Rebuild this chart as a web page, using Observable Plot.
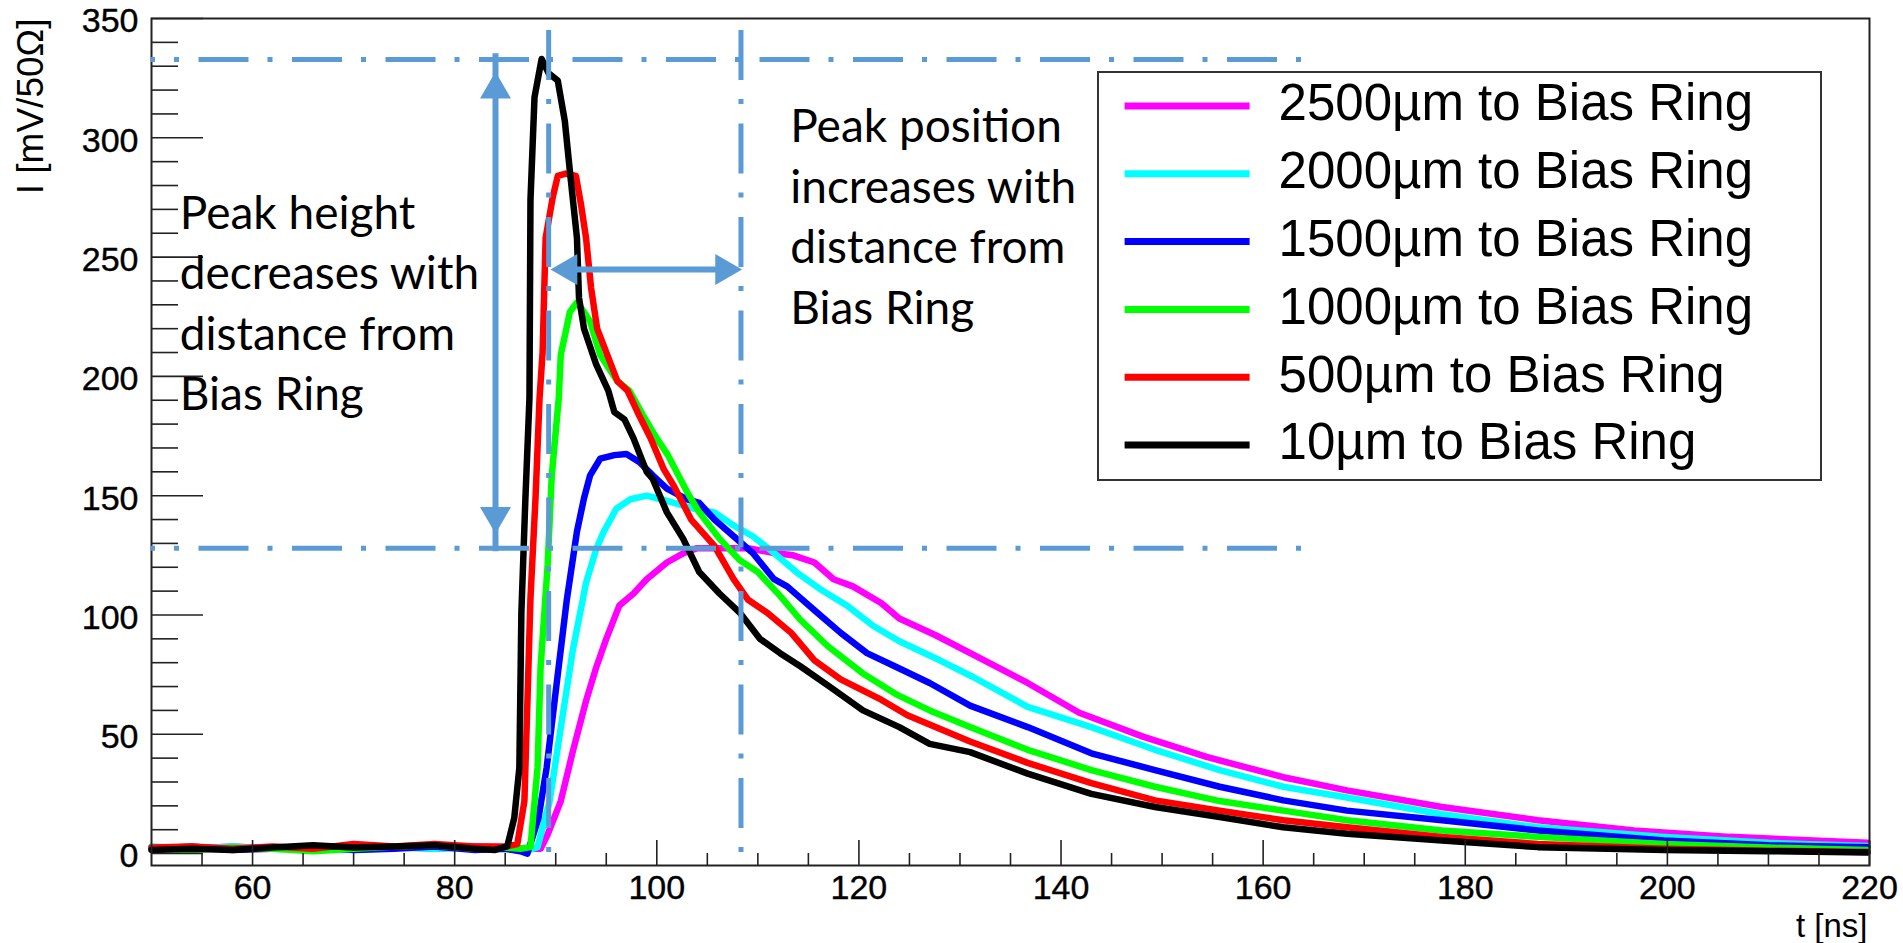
<!DOCTYPE html>
<html>
<head>
<meta charset="utf-8">
<script src="https://cdn.jsdelivr.net/npm/d3@7"></script>
<script src="https://cdn.jsdelivr.net/npm/@observablehq/plot@0.6"></script>
<style>
  html, body { margin: 0; padding: 0; background: #fff; }
  #wrap { position: relative; width: 1903px; height: 943px; overflow: hidden; background: #fff; }
  #wrap > svg { position: absolute; left: 0; top: 0; }
</style>
</head>
<body>
<div id="wrap"></div>
<script>
// ---------- data ----------
const seriesNames = [
  "2500µm to Bias Ring",
  "2000µm to Bias Ring",
  "1500µm to Bias Ring",
  "1000µm to Bias Ring",
  "500µm to Bias Ring",
  "10µm to Bias Ring"
];
const seriesColors = ["#ff00ff", "#00ffff", "#0000ff", "#00ff00", "#ff0000", "#000000"];

// [t (ns), I (mV/50Ω)]
const s2500 = [[50,2.5],[54,2],[58,3],[62,2],[66,2.5],[70,2],[74,3],[78,2],[82,3],[85,2.5],[87,2],[88.5,2],[89.2,8],[90.5,22],[91.7,43],[93.0,64],[94.0,78],[95.0,90],[96.3,104],[97.7,109],[99.0,115],[101.0,122],[102.7,126],[104.0,128],[106.2,128],[109.0,128],[111.6,126],[113.5,125],[115.6,122],[117.5,115],[119.4,112],[122.2,105],[124.0,98.5],[127.6,91.5],[131.5,83],[136.7,71.5],[141.8,59],[148.1,49],[154.4,40.5],[162.0,32],[168.3,26.5],[177.7,19.5],[187.2,14],[196.7,9.7],[206.2,7],[219.8,4.5]];
const s2000 = [[50,3],[54,2],[58,3],[62,2],[66,1.5],[70,3],[74,2.5],[78,2],[82,2.5],[85,2],[87,1],[88.2,2.7],[89.4,22],[90.4,50],[91.7,85.5],[93.0,113.5],[94.0,127.5],[94.7,134.5],[96.0,144.5],[97.4,148.5],[99.0,150],[100.4,148.5],[101.7,147],[103.7,144.5],[105.7,143],[107.6,137.5],[109.5,133],[111.6,126],[113.8,118],[116.1,111],[118.8,104],[121.4,95.5],[124.0,89],[128.0,81],[131.3,74],[136.7,61.5],[143.0,53],[149.3,43.5],[155.7,35],[162.0,28],[168.3,23.5],[177.7,16.5],[187.2,11],[199.7,7],[210,4.5],[219.8,3.2]];
const s1500 = [[50,2],[54,3],[58,1.5],[62,2],[66,2.5],[70,1.5],[74,2],[78,3],[82,1.5],[85,2],[86.5,1],[87.2,0],[88.3,15],[89.1,36],[90.1,71.5],[91.1,106.5],[92.1,135],[92.8,149],[93.4,158.5],[94.4,165.5],[95.8,167],[97.0,167.5],[98.3,164],[99.6,158.5],[101.0,153],[103.0,148.5],[104.2,147],[105.7,140],[107.6,133],[109.5,126],[111.6,115],[112.9,112],[115.6,102],[118.2,92.5],[120.8,84],[123.8,78],[127.0,71.5],[131.0,62],[136.7,53],[143.0,42],[149.3,35],[155.7,28],[162.0,22.3],[168.3,18],[177.7,14],[187.2,9.7],[199.7,5.5],[210,3.5],[219.8,2.7]];
const s1000 = [[50,2],[54,1.5],[58,2.5],[62,2],[66,1],[70,2],[74,3],[78,3.5],[82,2],[85,2.5],[86.5,2],[87.5,2.7],[88.2,36],[88.5,78],[89.2,121],[89.6,158],[90.3,191],[90.5,209],[91.4,227],[92.1,231],[92.8,227],[93.4,223],[94.4,209],[96.1,198],[97.3,194],[98.6,184],[100.0,174],[101.1,167],[103.0,151.5],[104.2,143],[106.2,132],[108.2,123],[110.0,118],[112.2,108],[114.2,98],[116.9,87],[120.4,75.5],[123.8,66.5],[127.0,60],[131.0,53],[136.7,43.5],[143.0,35],[149.3,28],[155.7,22],[162.0,18],[168.3,14],[177.7,9.7],[187.2,7],[199.7,4],[210,2.5],[219.8,1.5]];
const s500 = [[50,2.5],[54,3],[58,2],[62,3],[66,2],[70,4],[74,3],[78,4],[82,3],[85,3],[86.2,4],[86.9,22],[87.2,64],[87.5,107],[88.0,149],[88.4,191],[88.7,210],[89.0,258],[89.7,275],[90.2,284],[91.0,285],[92.0,284],[92.5,272],[93.0,258],[93.5,237],[94.1,220],[95.1,209],[96.1,198],[97.1,194],[98.1,185],[99.4,174],[100.7,161],[101.7,154],[103.4,140],[105.7,129],[107.6,115],[109.0,106.5],[110.9,101],[113.3,92.5],[115.6,81],[118.2,73],[122.2,64.5],[124.8,58],[131.0,47],[136.7,38],[143.0,29.5],[149.3,22.3],[155.7,18],[162.0,14],[168.3,11],[177.7,7],[187.2,4],[199.7,2],[210,1.2],[219.8,0.7]];
const s10 = [[50,1.5],[54,2],[58,1.5],[62,2.5],[66,3.5],[70,2.5],[74,3],[78,3.5],[82,2],[84,1.5],[85.2,3],[85.9,15],[86.4,36],[86.6,101],[87.0,149],[87.4,191],[87.5,274],[87.9,317],[88.6,333],[89.3,327],[90.2,324],[90.9,307],[91.4,286],[92.1,258],[92.3,233],[92.8,220],[94.0,205],[95.2,194],[95.8,185],[96.8,182],[97.7,174],[99.0,160],[99.6,157],[101.0,143],[102.6,132],[104.2,118],[106.2,109],[108.2,101],[110.2,90],[112.2,84],[114.2,78.5],[117.1,70],[120.4,60],[124.0,53],[127.0,46],[131.0,42.5],[136.7,33.5],[143.0,25],[149.3,19.5],[155.7,15.3],[162.0,11],[168.3,8.3],[177.7,5.5],[187.2,2.7],[199.7,1.5],[210,1],[219.8,0.5]];
const allSeries = [s2500, s2000, s1500, s1000, s500, s10];

// axis ticks
const xMajorTicks = [60, 80, 100, 120, 140, 160, 180, 200, 220];
const xMinorTicks = [55,65,70,75,85,90,95,105,110,115,125,130,135,145,150,155,165,170,175,185,190,195,205,210,215];
const yMajorTicks = [0, 50, 100, 150, 200, 250, 300, 350];
const yMinorTicks = [10,20,30,40,60,70,80,90,110,120,130,140,160,170,180,190,210,220,230,240,260,270,280,290,310,320,330,340];
const xTitle = "t [ns]";
const yTitle = "I [mV/50Ω]";

// annotations (data coordinates)
const guideH = [{y: 332.8, x1: 50, x2: 163.9}, {y: 128, x1: 50, x2: 163.9}];
const guideV = [{x: 89.3, y1: 345, y2: -3}, {x: 108.33, y1: 345, y2: -3}];
const arrowV = [{x: 84.04, y1: 134, y2: 327.7}];
const arrowH = [{y: 244.8, x1: 89.48, x2: 108.44}];
const noteLeft = [{x: 52.8, y: 185.8, text: "Peak height\ndecreases with\ndistance from\nBias Ring"}];
const noteRight = [{x: 113.2, y: 222.1, text: "Peak position\nincreases with\ndistance from\nBias Ring"}];

// ---------- build ----------
const rows = [];
allSeries.forEach((s, i) => s.forEach(([t, v]) => rows.push({t, v, series: seriesNames[i]})));

const annoColor = "#5B9BD5";
const frameColor = "#222";
const rootFont = "'Liberation Sans', Arial, Helvetica, sans-serif";
const noteFont = "Lato, 'Open Sans', sans-serif";
const headR = 11.5;
const headOff = 2 * Math.sqrt((headR * headR * Math.PI) / (3 * Math.sqrt(3)));

const plot = Plot.plot({
  width: 1903,
  height: 943,
  marginLeft: 151,
  marginRight: 34,
  marginTop: 18,
  marginBottom: 78,
  x: {domain: [50, 220]},
  y: {domain: [-5, 350]},
  color: {domain: seriesNames, range: seriesColors},
  style: {fontFamily: rootFont, fontSize: "34px", color: "#000", background: "#fff", overflow: "visible"},
  marks: [
    Plot.line(rows, {x: "t", y: "v", z: "series", stroke: "series", strokeWidth: 6.5, strokeLinejoin: "round"}),
    Plot.frame({stroke: frameColor, strokeWidth: 2}),
    // ticks (inside the frame, ROOT style)
    Plot.axisY(yMinorTicks, {anchor: "left", tickSize: 27, dx: 27, fill: "none", label: null, stroke: frameColor, strokeWidth: 1.6}),
    Plot.axisY(yMajorTicks, {anchor: "left", tickSize: 52, dx: 52, fill: "none", label: null, stroke: frameColor, strokeWidth: 1.6}),
    Plot.axisY(yMajorTicks, {anchor: "left", tickSize: 0, tickPadding: 13, dy: 3, label: null, fontSize: 34, fill: "#000", textStroke: "#000", textStrokeWidth: 0.4}),
    Plot.axisX(xMinorTicks, {anchor: "bottom", tickSize: 12, dy: -12, fill: "none", label: null, stroke: frameColor, strokeWidth: 1.6}),
    Plot.axisX(xMajorTicks, {anchor: "bottom", tickSize: 25, dy: -25, fill: "none", label: null, stroke: frameColor, strokeWidth: 1.6}),
    Plot.axisX(xMajorTicks, {anchor: "bottom", tickSize: 0, tickPadding: 9, label: null, fontSize: 34, fill: "#000", textStroke: "#000", textStrokeWidth: 0.4}),
    Plot.text([yTitle], {frameAnchor: "top-left", rotate: -90, textAnchor: "end", lineAnchor: "bottom", dx: -109, dy: 0, fontSize: 37, fill: "#000"}),
    Plot.text([xTitle], {frameAnchor: "bottom-right", textAnchor: "end", lineAnchor: "bottom", dx: -2, dy: 71, fontSize: 33, fill: "#000"}),
    // annotation guides
    Plot.ruleY(guideH, {y: "y", x1: "x1", x2: "x2", stroke: annoColor, strokeWidth: 5, strokeDasharray: "50 19 5 19.5", strokeDashoffset: 46}),
    Plot.ruleX(guideV, {x: "x", y1: "y1", y2: "y2", stroke: annoColor, strokeWidth: 5, strokeDasharray: "50 19 5 19.5"}),
    // double arrows
    Plot.ruleX(arrowV, {x: "x", y1: "y1", y2: "y2", stroke: annoColor, strokeWidth: 6, insetTop: 18, insetBottom: 18}),
    Plot.dot(arrowV, {x: "x", y: "y2", symbol: "triangle", r: headR, rotate: 0, dy: headOff, fill: annoColor}),
    Plot.dot(arrowV, {x: "x", y: "y1", symbol: "triangle", r: headR, rotate: 180, dy: -headOff, fill: annoColor}),
    Plot.ruleY(arrowH, {y: "y", x1: "x1", x2: "x2", stroke: annoColor, strokeWidth: 6, insetLeft: 18, insetRight: 18}),
    Plot.dot(arrowH, {x: "x1", y: "y", symbol: "triangle", r: headR, rotate: -90, dx: headOff, fill: annoColor}),
    Plot.dot(arrowH, {x: "x2", y: "y", symbol: "triangle", r: headR, rotate: 90, dx: -headOff, fill: annoColor}),
    // notes
    Plot.text(noteLeft, {x: "x", y: "y", text: "text", textAnchor: "start", lineAnchor: "bottom", lineHeight: 1.315, fontSize: 46, fontFamily: noteFont, fill: "#000"}),
    Plot.text(noteRight, {x: "x", y: "y", text: "text", textAnchor: "start", lineAnchor: "bottom", lineHeight: 1.315, fontSize: 46, fontFamily: noteFont, fill: "#000"})
  ]
});

const wrap = document.getElementById("wrap");
wrap.appendChild(plot);

// ---------- legend (ROOT TLegend style box) ----------
const leg = d3.create("svg")
  .attr("width", 1903).attr("height", 943)
  .style("pointer-events", "none");
const box = {x: 1098, y: 72, w: 723, h: 408};
leg.append("rect").attr("x", box.x).attr("y", box.y).attr("width", box.w).attr("height", box.h)
  .attr("fill", "#fff").attr("stroke", "#333").attr("stroke-width", 2);
seriesNames.forEach((name, i) => {
  const cy = 106 + i * 67.8;
  leg.append("line").attr("x1", 1124.6).attr("x2", 1249.6).attr("y1", cy).attr("y2", cy)
    .attr("stroke", seriesColors[i]).attr("stroke-width", 7);
  leg.append("text").attr("x", 1278.6).attr("y", cy + 14.3)
    .attr("font-family", rootFont).attr("font-size", 51).attr("fill", "#000")
    .text(name);
});
wrap.appendChild(leg.node());
</script>
</body>
</html>
